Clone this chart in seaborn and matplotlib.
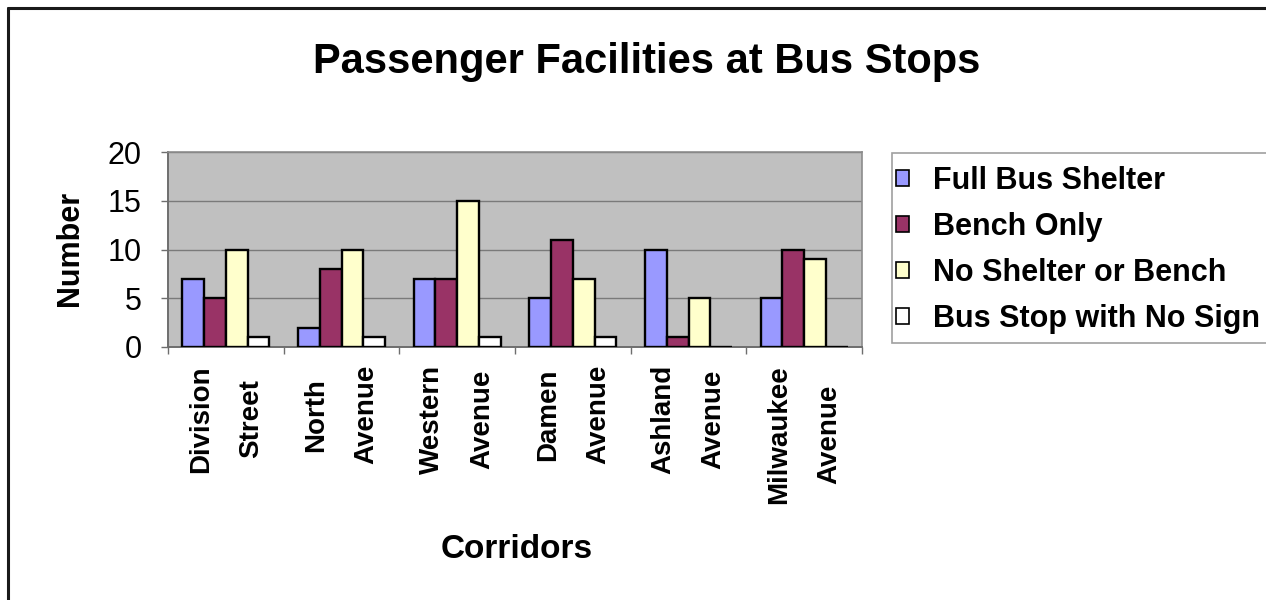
import matplotlib
matplotlib.use("Agg")
import matplotlib.pyplot as plt
import seaborn as sns
import pandas as pd
from matplotlib.lines import Line2D
from matplotlib.patches import Rectangle
from matplotlib.ticker import FixedLocator

# Bus stop facility counts along each corridor
corridors = ["Division\nStreet", "North\nAvenue", "Western\nAvenue",
             "Damen\nAvenue", "Ashland\nAvenue", "Milwaukee\nAvenue"]
facilities = ["Full Bus Shelter", "Bench Only", "No Shelter or Bench",
              "Bus Stop with No Sign"]
full_shelter = [7, 2, 7, 5, 10, 5]
bench_only = [5, 8, 7, 11, 1, 10]
no_shelter_or_bench = [10, 10, 15, 7, 5, 9]
no_sign = [1, 1, 1, 1, 0, 0]
y_ticks = [0, 5, 10, 15, 20]

colors = ["#9999FF", "#993366", "#FFFFCC", "#FFFFFF"]

df = pd.DataFrame({
    "Corridor": corridors * 4,
    "Facility": [f for f in facilities for _ in corridors],
    "Number": full_shelter + bench_only + no_shelter_or_bench + no_sign,
})

sns.set_theme(style="white")
plt.rcParams["font.family"] = ["Liberation Sans", "DejaVu Sans"]
plt.rcParams.update({"text.color": "black", "axes.labelcolor": "black",
                     "xtick.color": "black", "ytick.color": "black"})

W, H = 1266, 600
fig = plt.figure(figsize=(W / 100, H / 100), dpi=100)
ax = fig.add_axes([168 / W, 1 - 347 / H, (862 - 168) / W, (347 - 152) / H])

sns.barplot(data=df, x="Corridor", y="Number", hue="Facility",
            order=corridors, hue_order=facilities, palette=colors,
            width=0.75, edgecolor="black", linewidth=1.7, saturation=1,
            ax=ax, zorder=3)

ax.set_facecolor("#C0C0C0")
ax.set_ylim(0, 20)
ax.set_xlim(-0.5, len(corridors) - 0.5)
ax.set_yticks(y_ticks)
ax.yaxis.grid(True, color="#7a7a7a", linewidth=1.0, zorder=0)
ax.set_axisbelow(True)

for side in ["top", "right"]:
    ax.spines[side].set_color("#8c8c8c")
    ax.spines[side].set_linewidth(1.2)
for side in ["left", "bottom"]:
    ax.spines[side].set_color("#6e6e6e")
    ax.spines[side].set_linewidth(1.4)

ax.set_xlabel("")
ax.set_ylabel("")
ax.tick_params(axis="y", labelsize=22, length=5, width=1, color="#6e6e6e",
               labelcolor="black", left=True, pad=14)
ax.tick_params(axis="x", which="major", length=0, pad=13, labelcolor="black")
ax.xaxis.set_minor_locator(FixedLocator([i - 0.5 for i in range(len(corridors) + 1)]))
ax.tick_params(axis="x", which="minor", bottom=True, length=5, width=1,
               color="#6e6e6e")
ax.set_xticks(range(len(corridors)))
ax.set_xticklabels(corridors, rotation=90, ha="center", va="top",
                   multialignment="center", linespacing=2.2,
                   fontsize=20, fontweight="bold")

# Legend on the right side of the chart, inside its own box
handles, labels = ax.get_legend_handles_labels()
ax.get_legend().remove()
fig.add_artist(Rectangle((892 / W, 1 - 343 / H), 400 / W, 190 / H,
                         transform=fig.transFigure, facecolor="white",
                         edgecolor="#a0a0a0", linewidth=1.2, zorder=1))
leg = fig.legend(handles, labels, loc="upper left",
                 bbox_to_anchor=(896 / W, 1 - 166 / H),
                 prop={"size": 22, "weight": "bold"},
                 frameon=False, handlelength=0.42, handleheight=0.42,
                 handletextpad=0.78, labelspacing=0.52,
                 borderpad=0, borderaxespad=0)
leg.set_zorder(2)
for h in leg.legend_handles:
    h.set_edgecolor("black")
    h.set_linewidth(1.2)

fig.text(647 / W, 1 - 62 / H, "Passenger Facilities at Bus Stops",
         ha="center", va="center", fontsize=30, fontweight="bold")
fig.text(70 / W, 1 - 248 / H, "Number", rotation=90,
         ha="center", va="center", fontsize=22, fontweight="bold")
fig.text(517 / W, 1 - 550 / H, "Corridors",
         ha="center", va="center", fontsize=24, fontweight="bold")

# Chart area border along the top and left edges
fig.add_artist(Line2D([8 / W, 8 / W], [0, 1 - 8 / H],
                      transform=fig.transFigure, color="#1a1a1a", linewidth=2.2))
fig.add_artist(Line2D([8 / W, 1], [1 - 8 / H, 1 - 8 / H],
                      transform=fig.transFigure, color="#1a1a1a", linewidth=2.2))

fig.savefig("out.png", dpi=100, facecolor="white")
